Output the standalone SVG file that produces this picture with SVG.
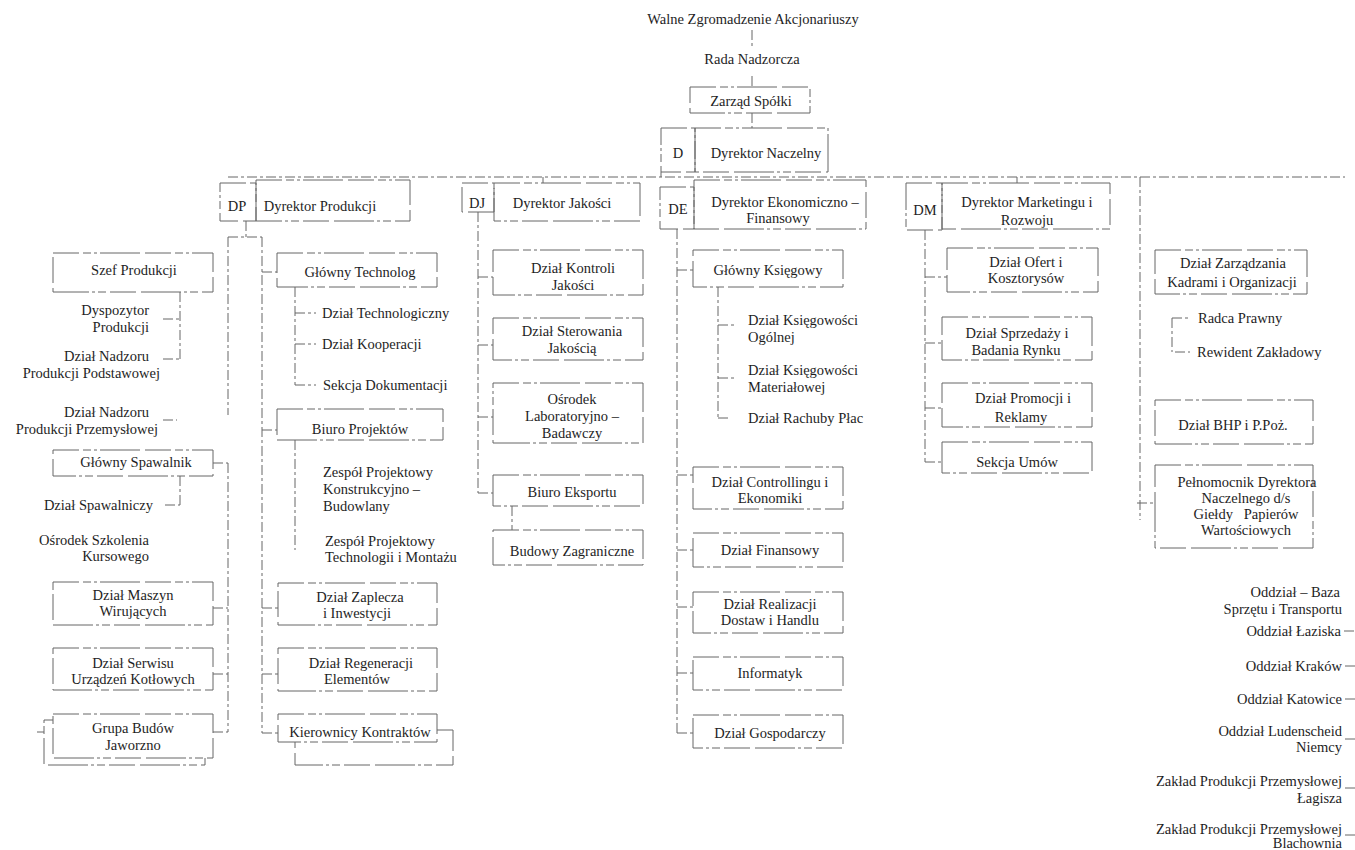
<svg xmlns="http://www.w3.org/2000/svg" width="1355" height="850" viewBox="0 0 1355 850">
<style>
.t{font-family:"Liberation Serif","Times New Roman",serif;font-size:14.5px;fill:#1e1e1e}
.c{text-anchor:middle}
.e{text-anchor:end}
.b{fill:none;stroke:#666;stroke-width:1;stroke-dasharray:26 4 8 3 3 3 40 5}
.l{fill:none;stroke:#666;stroke-width:1;stroke-dasharray:10 3 3 3}
</style>
<rect width="1355" height="850" fill="#fff"/>

<g id="connectors">
<line class="l" x1="752" y1="30" x2="752" y2="48"/>
<line class="l" x1="752" y1="76" x2="752" y2="87"/>
<line class="l" x1="752" y1="113" x2="752" y2="128"/>
<line class="l" x1="228" y1="177" x2="1345" y2="177"/>
<line class="l" x1="661" y1="172" x2="661" y2="177"/>
<line class="l" x1="1017" y1="177" x2="1017" y2="183"/>
<line class="l" x1="543" y1="177" x2="543" y2="183"/>
<line class="l" x1="246" y1="221" x2="246" y2="237"/>
<line class="l" x1="228" y1="237" x2="262" y2="237"/>
<line class="l" x1="228" y1="237" x2="228" y2="415"/>
<line class="l" x1="228" y1="463" x2="228" y2="732"/>
<line class="l" x1="213" y1="463" x2="228" y2="463"/>
<line class="l" x1="213" y1="608" x2="228" y2="608"/>
<line class="l" x1="213" y1="674" x2="228" y2="674"/>
<line class="l" x1="213" y1="732" x2="228" y2="732"/>
<line class="l" x1="180" y1="292" x2="180" y2="359"/>
<line class="l" x1="163" y1="319" x2="180" y2="319"/>
<line class="l" x1="163" y1="359" x2="180" y2="359"/>
<line class="l" x1="163" y1="420" x2="177" y2="420"/>
<line class="l" x1="180" y1="476" x2="180" y2="505"/>
<line class="l" x1="165" y1="505" x2="180" y2="505"/>
<line class="l" x1="37" y1="732" x2="44" y2="732"/>
<line class="l" x1="262" y1="237" x2="262" y2="733"/>
<line class="l" x1="262" y1="272" x2="277" y2="272"/>
<line class="l" x1="262" y1="430" x2="277" y2="430"/>
<line class="l" x1="262" y1="608" x2="278" y2="608"/>
<line class="l" x1="262" y1="674" x2="278" y2="674"/>
<line class="l" x1="262" y1="733" x2="278" y2="733"/>
<line class="l" x1="295" y1="287" x2="295" y2="385"/>
<line class="l" x1="295" y1="313" x2="316" y2="313"/>
<line class="l" x1="295" y1="344" x2="316" y2="344"/>
<line class="l" x1="295" y1="385" x2="316" y2="385"/>
<line class="l" x1="295" y1="440" x2="295" y2="550"/>
<line class="l" x1="478" y1="212" x2="478" y2="493"/>
<line class="l" x1="478" y1="277" x2="493" y2="277"/>
<line class="l" x1="478" y1="345" x2="493" y2="345"/>
<line class="l" x1="478" y1="417" x2="493" y2="417"/>
<line class="l" x1="478" y1="493" x2="493" y2="493"/>
<line class="l" x1="512" y1="506" x2="512" y2="530"/>
<line class="l" x1="677" y1="229" x2="677" y2="733"/>
<line class="l" x1="677" y1="270" x2="693" y2="270"/>
<line class="l" x1="677" y1="475" x2="693" y2="475"/>
<line class="l" x1="677" y1="550" x2="693" y2="550"/>
<line class="l" x1="677" y1="607" x2="693" y2="607"/>
<line class="l" x1="677" y1="673" x2="693" y2="673"/>
<line class="l" x1="677" y1="733" x2="693" y2="733"/>
<line class="l" x1="718" y1="287" x2="718" y2="418"/>
<line class="l" x1="718" y1="325" x2="734" y2="325"/>
<line class="l" x1="718" y1="378" x2="736" y2="378"/>
<line class="l" x1="718" y1="418" x2="730" y2="418"/>
<line class="l" x1="925" y1="230" x2="925" y2="462"/>
<line class="l" x1="925" y1="277" x2="947" y2="277"/>
<line class="l" x1="925" y1="343" x2="942" y2="343"/>
<line class="l" x1="925" y1="408" x2="942" y2="408"/>
<line class="l" x1="925" y1="462" x2="942" y2="462"/>
<line class="l" x1="1140" y1="177" x2="1140" y2="520"/>
<line class="l" x1="1137" y1="503" x2="1155" y2="503"/>
<line class="l" x1="1172" y1="318" x2="1172" y2="352"/>
<line class="l" x1="1172" y1="318" x2="1190" y2="318"/>
<line class="l" x1="1175" y1="352" x2="1190" y2="352"/>
<line class="l" x1="1344" y1="631" x2="1355" y2="631"/>
<line class="l" x1="1345" y1="666" x2="1355" y2="666"/>
<line class="l" x1="1345" y1="699" x2="1355" y2="699"/>
<line class="l" x1="1345" y1="739" x2="1355" y2="739"/>
<line class="l" x1="1345" y1="788" x2="1355" y2="788"/>
<line class="l" x1="1345" y1="835" x2="1355" y2="835"/>
</g>

<g id="n-walne"><text class="t c" x="753" y="24">Walne Zgromadzenie Akcjonariuszy</text></g>
<g id="n-rada"><text class="t c" x="752" y="64">Rada Nadzorcza</text></g>
<g id="n-zarzad"><rect class="b" x="690" y="87" width="120" height="26"/><text class="t c" x="751" y="106">Zarząd Spółki</text></g>
<g id="n-d"><rect class="b" x="661" y="128" width="34" height="44"/><text class="t c" x="678" y="158">D</text></g>
<g id="n-dn"><rect class="b" x="695" y="128" width="133" height="44"/><text class="t c" x="766" y="158">Dyrektor Naczelny</text></g>

<g id="n-dp"><rect class="b" x="220" y="183" width="36" height="38"/><text class="t c" x="237" y="211">DP</text></g>
<g id="n-dprod"><rect class="b" x="256" y="180" width="154" height="41"/><text class="t c" x="320" y="211">Dyrektor Produkcji</text></g>
<g id="n-dj"><rect class="b" x="462" y="183" width="32" height="29"/><text class="t c" x="477" y="208">DJ</text></g>
<g id="n-djak"><rect class="b" x="494" y="183" width="146" height="38"/><text class="t c" x="562" y="208">Dyrektor Jakości</text></g>
<g id="n-de"><rect class="b" x="660" y="187" width="34" height="42"/><text class="t c" x="678" y="214">DE</text></g>
<g id="n-def"><rect class="b" x="694" y="180" width="172" height="49"/><text class="t c" x="785" y="207">Dyrektor Ekonomiczno –</text><text class="t c" x="778" y="223">Finansowy</text></g>
<g id="n-dm"><rect class="b" x="906" y="183" width="36" height="47"/><text class="t c" x="925" y="215">DM</text></g>
<g id="n-dmr"><rect class="b" x="942" y="183" width="168" height="46"/><text class="t c" x="1027" y="207">Dyrektor Marketingu i</text><text class="t c" x="1027" y="225">Rozwoju</text></g>

<g id="n-szef"><rect class="b" x="53" y="253" width="160" height="39"/><text class="t c" x="134" y="275">Szef Produkcji</text></g>
<g id="n-dysp"><text class="t e" x="149" y="315">Dyspozytor</text><text class="t e" x="149" y="332">Produkcji</text></g>
<g id="n-nadzpod"><text class="t e" x="149" y="361">Dział Nadzoru</text><text class="t e" x="160" y="378">Produkcji Podstawowej</text></g>
<g id="n-nadzprz"><text class="t e" x="149" y="417">Dział Nadzoru</text><text class="t e" x="158" y="434">Produkcji Przemysłowej</text></g>
<g id="n-spaw"><rect class="b" x="53" y="450" width="160" height="26"/><text class="t c" x="136" y="467">Główny Spawalnik</text></g>
<g id="n-dspaw"><text class="t e" x="153" y="510">Dział Spawalniczy</text></g>
<g id="n-osk"><text class="t e" x="149" y="545">Ośrodek Szkolenia</text><text class="t e" x="149" y="561">Kursowego</text></g>
<g id="n-maszyn"><rect class="b" x="53" y="582" width="160" height="43"/><text class="t c" x="133" y="600">Dział Maszyn</text><text class="t c" x="133" y="616">Wirujących</text></g>
<g id="n-serwis"><rect class="b" x="53" y="648" width="160" height="42"/><text class="t c" x="133" y="668">Dział Serwisu</text><text class="t c" x="133" y="684">Urządzeń Kotłowych</text></g>
<g id="n-grupa"><rect class="b" x="44" y="720" width="161" height="45"/><rect class="b" x="53" y="714" width="160" height="44" style="fill:#fff"/><text class="t c" x="133" y="733">Grupa Budów</text><text class="t c" x="133" y="750">Jaworzno</text></g>

<g id="n-techn"><rect class="b" x="277" y="253" width="160" height="34"/><text class="t c" x="360" y="277">Główny Technolog</text></g>
<g id="n-dtech"><text class="t" x="322" y="318">Dział Technologiczny</text></g>
<g id="n-dkoop"><text class="t" x="322" y="349">Dział Kooperacji</text></g>
<g id="n-sdok"><text class="t" x="323" y="390">Sekcja Dokumentacji</text></g>
<g id="n-biuro"><rect class="b" x="277" y="409" width="166" height="31"/><text class="t c" x="360" y="434">Biuro Projektów</text></g>
<g id="n-zpkb"><text class="t" x="323" y="477">Zespół Projektowy</text><text class="t" x="323" y="494">Konstrukcyjno –</text><text class="t" x="323" y="511">Budowlany</text></g>
<g id="n-zptm"><text class="t" x="325" y="546">Zespół Projektowy</text><text class="t" x="325" y="562">Technologii i Montażu</text></g>
<g id="n-zapl"><rect class="b" x="278" y="583" width="159" height="42"/><text class="t c" x="360" y="602">Dział Zaplecza</text><text class="t c" x="357" y="618">i Inwestycji</text></g>
<g id="n-regen"><rect class="b" x="278" y="648" width="159" height="43"/><text class="t c" x="361" y="668">Dział Regeneracji</text><text class="t c" x="357" y="684">Elementów</text></g>
<g id="n-kier"><rect class="b" x="295" y="730" width="158" height="35"/><rect class="b" x="278" y="714" width="159" height="28" style="fill:#fff"/><text class="t c" x="360" y="737">Kierownicy Kontraktów</text></g>

<g id="n-kontr"><rect class="b" x="493" y="250" width="150" height="45"/><text class="t c" x="573" y="273">Dział Kontroli</text><text class="t c" x="573" y="290">Jakości</text></g>
<g id="n-ster"><rect class="b" x="493" y="318" width="150" height="42"/><text class="t c" x="572" y="336">Dział Sterowania</text><text class="t c" x="572" y="353">Jakością</text></g>
<g id="n-olab"><rect class="b" x="493" y="383" width="150" height="60"/><text class="t c" x="572" y="404">Ośrodek</text><text class="t c" x="572" y="421">Laboratoryjno –</text><text class="t c" x="572" y="438">Badawczy</text></g>
<g id="n-eksp"><rect class="b" x="493" y="475" width="150" height="31"/><text class="t c" x="572" y="497">Biuro Eksportu</text></g>
<g id="n-budz"><rect class="b" x="493" y="530" width="150" height="35"/><text class="t c" x="572" y="556">Budowy Zagraniczne</text></g>

<g id="n-ksieg"><rect class="b" x="693" y="250" width="150" height="37"/><text class="t c" x="768" y="275">Główny Księgowy</text></g>
<g id="n-kogol"><text class="t" x="748" y="325">Dział Księgowości</text><text class="t" x="748" y="342">Ogólnej</text></g>
<g id="n-kmat"><text class="t" x="748" y="375">Dział Księgowości</text><text class="t" x="748" y="392">Materiałowej</text></g>
<g id="n-rach"><text class="t" x="748" y="423">Dział Rachuby Płac</text></g>
<g id="n-contr"><rect class="b" x="693" y="467" width="150" height="42"/><text class="t c" x="770" y="487">Dział Controllingu i</text><text class="t c" x="770" y="503">Ekonomiki</text></g>
<g id="n-fin"><rect class="b" x="693" y="533" width="150" height="34"/><text class="t c" x="770" y="555">Dział Finansowy</text></g>
<g id="n-real"><rect class="b" x="693" y="592" width="150" height="41"/><text class="t c" x="770" y="609">Dział Realizacji</text><text class="t c" x="770" y="625">Dostaw i Handlu</text></g>
<g id="n-inf"><rect class="b" x="693" y="657" width="150" height="33"/><text class="t c" x="770" y="678">Informatyk</text></g>
<g id="n-gosp"><rect class="b" x="693" y="715" width="150" height="33"/><text class="t c" x="770" y="738">Dział Gospodarczy</text></g>

<g id="n-ofert"><rect class="b" x="947" y="248" width="151" height="44"/><text class="t c" x="1026" y="267">Dział Ofert i</text><text class="t c" x="1026" y="283">Kosztorysów</text></g>
<g id="n-sprz"><rect class="b" x="942" y="317" width="150" height="43"/><text class="t c" x="1017" y="338">Dział Sprzedaży i</text><text class="t c" x="1016" y="355">Badania Rynku</text></g>
<g id="n-prom"><rect class="b" x="942" y="383" width="150" height="44"/><text class="t c" x="1023" y="403">Dział Promocji i</text><text class="t c" x="1021" y="422">Reklamy</text></g>
<g id="n-umow"><rect class="b" x="942" y="442" width="150" height="31"/><text class="t c" x="1017" y="467">Sekcja Umów</text></g>

<g id="n-kadry"><rect class="b" x="1155" y="250" width="152" height="44"/><text class="t c" x="1233" y="268">Dział Zarządzania</text><text class="t c" x="1232" y="287">Kadrami i Organizacji</text></g>
<g id="n-radca"><text class="t" x="1198" y="323">Radca Prawny</text></g>
<g id="n-rew"><text class="t" x="1197" y="357">Rewident Zakładowy</text></g>
<g id="n-bhp"><rect class="b" x="1155" y="400" width="158" height="44"/><text class="t c" x="1233" y="430">Dział BHP i P.Poż.</text></g>
<g id="n-pelnom"><rect class="b" x="1155" y="465" width="158" height="83"/><text class="t c" x="1247" y="487">Pełnomocnik Dyrektora</text><text class="t c" x="1246" y="503">Naczelnego d/s</text><text class="t c" x="1246" y="519">Giełdy&#160;&#160;&#160;Papierów</text><text class="t c" x="1246" y="535">Wartościowych</text></g>

<g id="n-baza"><text class="t e" x="1340" y="597">Oddział – Baza</text><text class="t e" x="1342" y="614">Sprzętu i Transportu</text></g>
<g id="n-laziska"><text class="t e" x="1341" y="636">Oddział Łaziska</text></g>
<g id="n-krakow"><text class="t e" x="1342" y="671">Oddział Kraków</text></g>
<g id="n-katow"><text class="t e" x="1342" y="704">Oddział Katowice</text></g>
<g id="n-luden"><text class="t e" x="1342" y="736">Oddział Ludenscheid</text><text class="t e" x="1342" y="752">Niemcy</text></g>
<g id="n-lagisza"><text class="t e" x="1342" y="786">Zakład Produkcji Przemysłowej</text><text class="t e" x="1342" y="803">Łagisza</text></g>
<g id="n-blach"><text class="t e" x="1342" y="834">Zakład Produkcji Przemysłowej</text><text class="t e" x="1342" y="848">Blachownia</text></g>
</svg>
